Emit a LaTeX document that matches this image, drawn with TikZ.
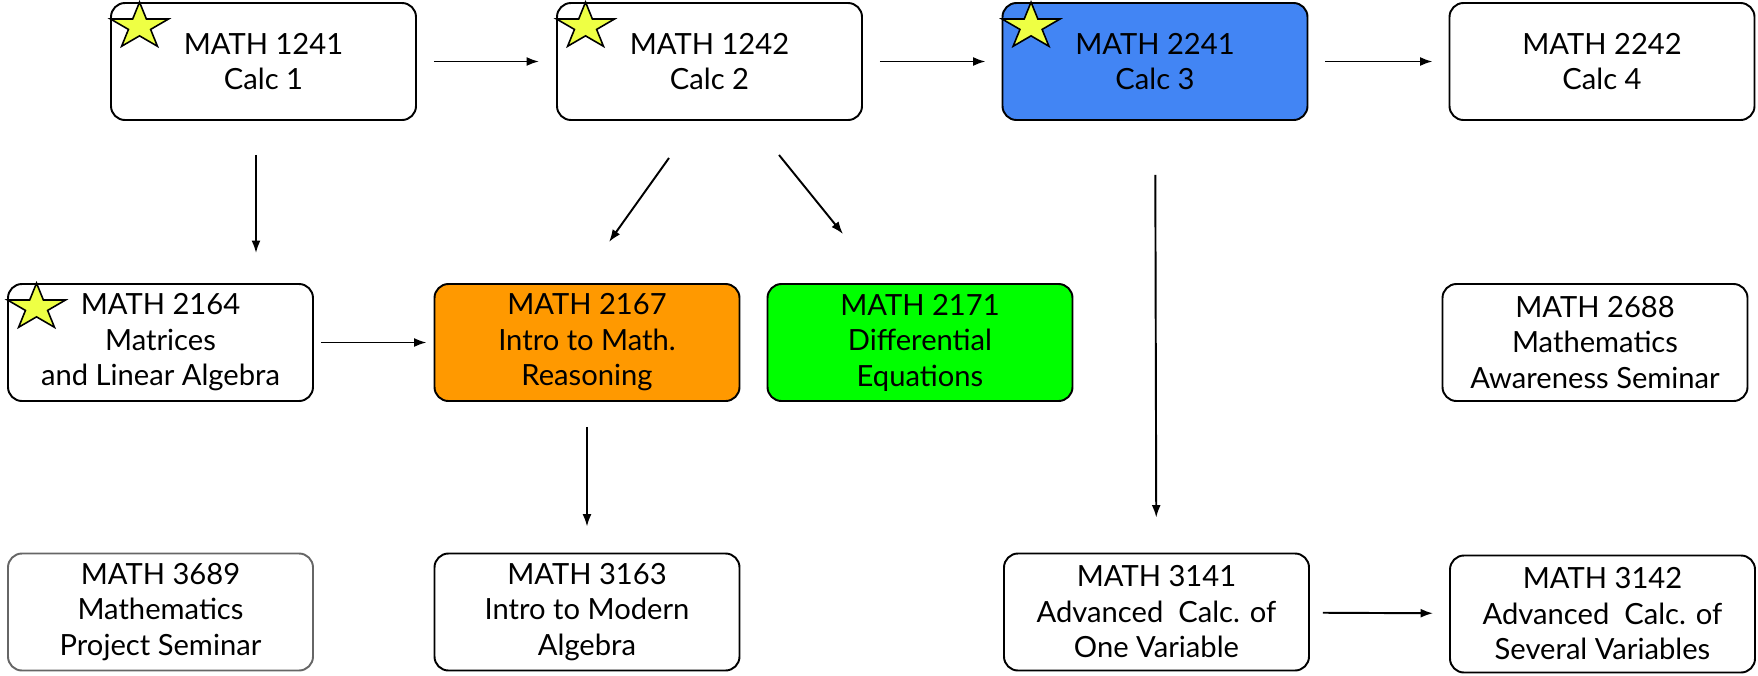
\documentclass[tikz,border=0pt]{standalone}
\usepackage{fontspec}
\setmainfont{Lato}
\usetikzlibrary{arrows.meta}
\definecolor{starfill}{RGB}{238,255,68}
\definecolor{calcblue}{RGB}{66,133,244}
\definecolor{reasonorange}{RGB}{255,153,0}
\definecolor{diffgreen}{RGB}{0,255,0}
\def\coursestar(#1){\draw[line width=0.45pt, fill=starfill, shift={(#1)}, shift={(0.295,-0.245)}, yscale=0.8] (90:0.305) \foreach \k in {1,...,9}{ -- ({90+36*\k}:{0.305-0.1885*mod(\k,2)})} -- cycle;}

\begin{document}
\begin{tikzpicture}[
	course/.style={draw, line width=0.55pt, rounded corners=1.4mm, minimum width=3.05cm, minimum height=1.17cm, inner sep=0pt, align=center, font=\fontsize{8.3}{10.1}\selectfont},
	arr/.style={-{Latex[length=1.25mm,width=0.9mm]}, line width=0.55pt}]
			%%%%% START %%%%%
			\useasboundingbox (0,0) rectangle (17.58,-6.75);
			
			\node[course] (c1241) at (2.635,-0.615) {MATH 1241\\Calc 1};
			\node[course] (c1242) at (7.095,-0.615) {MATH 1242\\Calc 2};
			\node[course, fill=calcblue] (c2241) at (11.55,-0.615) {MATH 2241\\Calc 3};
			\node[course] (c2242) at (16.02,-0.615) {MATH 2242\\Calc 4};
			
			\node[course] (c2164) at (1.605,-3.425) {MATH 2164\\Matrices\\and Linear Algebra};
			\node[course, fill=reasonorange] (c2167) at (5.87,-3.425) {MATH 2167\\Intro to Math.\\Reasoning};
			\node[course, fill=diffgreen] (c2171) at (9.20,-3.425) {MATH 2171\\Differential\\Equations};
			\node[course] (c2688) at (15.95,-3.425) {MATH 2688\\Mathematics\\Awareness Seminar};
			
			\node[course, draw=black!60] (c3689) at (1.605,-6.12) {MATH 3689\\Mathematics\\Project Seminar};
			\node[course] (c3163) at (5.87,-6.12) {MATH 3163\\Intro to Modern\\Algebra};
			\node[course] (c3141) at (11.565,-6.12) {MATH 3141\\Advanced~ Calc. of\\One Variable};
			\node[course] (c3142) at (16.025,-6.14) {MATH 3142\\Advanced~ Calc. of\\Several Variables};
			
			\coursestar(c1241.north west)
			\coursestar(c1242.north west)
			\coursestar(c2241.north west)
			\coursestar(c2164.north west)
			
			\draw[arr, shorten <=1.7mm, shorten >=1.7mm] (c1241) -- (c1242);
			\draw[arr, shorten <=1.7mm, shorten >=1.6mm] (c1242) -- (c2241);
			\draw[arr, shorten <=1.7mm, shorten >=1.6mm] (c2241) -- (c2242);
			\draw[arr, shorten <=0.7mm, shorten >=0.7mm] (c2164) -- (c2167);
			\draw[arr, shorten <=1.3mm, shorten >=1.6mm] (c3141) -- (c3142);
			
			\draw[arr, shorten <=3.4mm, shorten >=3mm] ([xshift=-0.75mm]c1241.south) -- ([xshift=-0.75mm]c1241.south |- c2164.north);
			\draw[arr] ([shift={(-0.405,-0.37)}]c1242.south) -- ([shift={(0.22,0.41)}]c2167.north);
			\draw[arr] ([shift={(0.695,-0.34)}]c1242.south) -- ([shift={(-0.77,0.49)}]c2171.north);
			\draw[arr, shorten <=2.5mm, shorten >=2.6mm] (c2167) -- (c3163);
			\draw[arr, shorten <=5.4mm, shorten >=3.5mm] (c2241) -- (c3141);
			%%%%% END %%%%%
\end{tikzpicture}
\end{document}
